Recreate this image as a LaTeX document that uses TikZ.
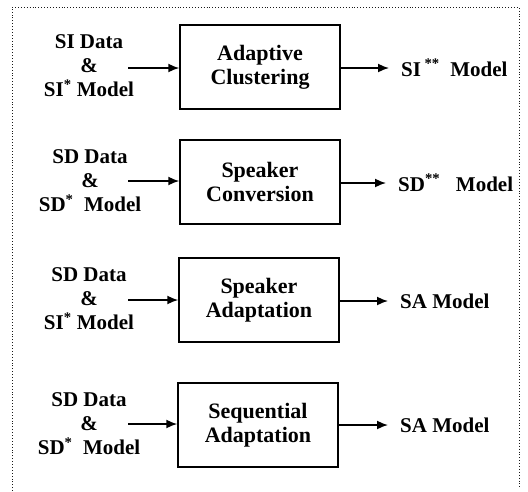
\documentclass[tikz,border=0pt]{standalone}
\usepackage{fontspec}
\setmainfont{Liberation Serif}
\usetikzlibrary{arrows.meta}
\begin{document}
\begin{tikzpicture}[x=1pt,y=-1pt,
	font=\fontsize{21}{24}\selectfont\bfseries,
	blockbox/.style={draw=black, line width=1.5pt, minimum width=160pt, minimum height=84pt, align=center, inner sep=0pt, font=\fontsize{22}{24}\selectfont\bfseries},
	inputtext/.style={align=center, inner sep=0pt},
	outputtext/.style={anchor=west, inner xsep=12pt, inner ysep=0pt},
	flow/.style={line width=1.6pt, -{Latex[length=11pt,width=9pt]}}]

	%Background
	\useasboundingbox[fill=white] (0,0) rectangle (528,491);

	%Frame
	\draw[dotted, line width=0.9pt, draw=black!90] (12,491) -- (12,7) -- (519,7) -- (519,489);

	%Blocks
	%Adaptive clustering
	\node[blockbox] (cluster) at (260,67) {Adaptive\\Clustering};
	\node[inputtext] (incluster) at (89,66) {SI Data\\\&\\SI\textsuperscript{*} Model};
	\coordinate (srccluster) at (128,68);
	\node[outputtext] (outcluster) at (389,68) {SI\,\textsuperscript{**}~~Model};
	\draw[flow] (srccluster) -- (cluster.west |- srccluster);
	\draw[flow] (cluster.east |- outcluster) -- (outcluster.west);

	%Speaker conversion
	\node[blockbox] (convert) at (260,182) {Speaker\\Conversion};
	\node[inputtext] (inconvert) at (90,181) {SD Data\\\&\\SD\textsuperscript{*}~~Model};
	\coordinate (srcconvert) at (128,181);
	\node[outputtext] (outconvert) at (386,183) {SD\textsuperscript{**}~~~Model};
	\draw[flow] (srcconvert) -- (convert.west |- srcconvert);
	\draw[flow] (convert.east |- outconvert) -- (outconvert.west);

	%Speaker adaptation
	\node[blockbox] (adapt) at (259,300) {Speaker\\Adaptation};
	\node[inputtext] (inadapt) at (89,299) {SD Data\\\&\\SI\textsuperscript{*} Model};
	\coordinate (srcadapt) at (128,300);
	\node[outputtext] (outadapt) at (388,301) {SA Model};
	\draw[flow] (srcadapt) -- (adapt.west |- srcadapt);
	\draw[flow] (adapt.east |- outadapt) -- (outadapt.west);

	%Sequential adaptation
	\node[blockbox] (sequ) at (258,425) {Sequential\\Adaptation};
	\node[inputtext] (insequ) at (89,424) {SD Data\\\&\\SD\textsuperscript{*}~~Model};
	\coordinate (srcsequ) at (128,424);
	\node[outputtext] (outsequ) at (388,425) {SA Model};
	\draw[flow] (srcsequ) -- (sequ.west |- srcsequ);
	\draw[flow] (sequ.east |- outsequ) -- (outsequ.west);

\end{tikzpicture}
\end{document}
